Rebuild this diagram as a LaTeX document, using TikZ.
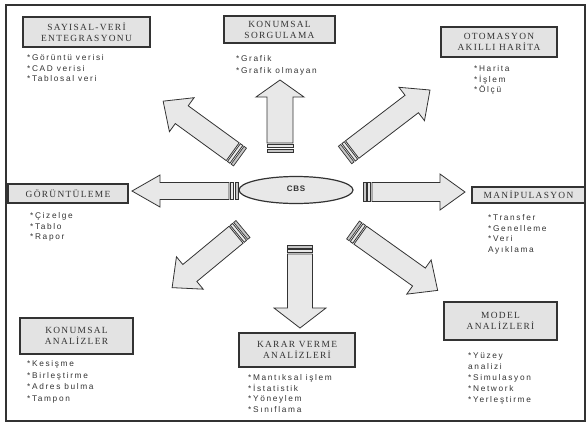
\documentclass[tikz,border=0pt]{standalone}
\usepackage{fontspec}
\setmainfont{Liberation Serif}
\newfontfamily\boxfont{Liberation Serif}[LetterSpace=14]
\newfontfamily\listfont{Liberation Sans}[LetterSpace=20]
\newfontfamily\cbsfont{Liberation Sans}[LetterSpace=10]
\usetikzlibrary{shapes.geometric}
\definecolor{inkc}{gray}{0.2}
\definecolor{arrfill}{gray}{0.91}
\definecolor{boxfill}{gray}{0.89}
\tikzset{
  arrbody/.style={draw=inkc,fill=arrfill,line width=0.8pt,line join=miter},
  arrband/.style={draw=inkc,fill=gray!45,line width=0.7pt},
  titlebox/.style={draw=inkc,fill=boxfill,line width=1.1pt,inner sep=1pt,align=center,
     font=\boxfont\fontsize{9.4}{11}\selectfont,text=inkc},
  itemlist/.style={anchor=north west,inner sep=0pt,align=left,
     font=\listfont\fontsize{8.3}{10.8}\selectfont,text=inkc},
}
% tail x, tail y, angle, length, shaft half width, head half width, head length
\newcommand\bigarr[7]{%
  \begin{scope}[shift={(#1,#2)},rotate=#3]
    \draw[arrbody] (9,-#5) -- ({#4-#7},-#5) -- ({#4-#7},-#6) -- (#4,0)
      -- ({#4-#7},#6) -- ({#4-#7},#5) -- (9,#5) -- cycle;
    \draw[arrband] (0,-#5) rectangle (3,#5);
    \draw[arrbody] (4.5,-#5) rectangle (7.5,#5);
  \end{scope}}
\begin{document}
\begin{tikzpicture}[x=1pt,y=-1pt]
\useasboundingbox (0,0) rectangle (588,426);
\draw[inkc,line width=1.2pt] (6,5) rectangle (585,421);

% central node
\node[ellipse,draw=inkc,fill=arrfill,line width=1.2pt,minimum width=114pt,minimum height=27pt,
  inner sep=0pt,font=\cbsfont\bfseries\fontsize{8}{9}\selectfont,text=inkc] (cbs) at (296,190) {\raisebox{3pt}{CBS}};

% arrows
\bigarr{238}{191}{180}{106}{8.5}{16}{28}
\bigarr{363}{192}{0}{102}{9.5}{18}{25}
\bigarr{280}{152}{90}{72}{13}{24}{17}
\bigarr{300}{245}{-90}{83}{12.5}{26}{20}
\bigarr{240}{157}{144}{95}{11}{21}{23}
\bigarr{345}{155}{37.4}{107}{11}{21}{23}
\bigarr{243}{229}{219.6}{92}{11}{21}{23}
\bigarr{353}{230}{-35.5}{104}{11}{21}{23}

% title boxes
\node[titlebox,minimum width=127pt,minimum height=30pt] (sv) at (86.5,32) {SAYISAL-VERİ\\ENTEGRASYONU};
\node[titlebox,minimum width=111pt,minimum height=27pt] (ks) at (279.5,29.5) {KONUMSAL\\SORGULAMA};
\node[titlebox,minimum width=116pt,minimum height=30pt] (oa) at (499,42) {OTOMASYON\\AKILLI HARİTA};
\node[titlebox,minimum width=120pt,minimum height=19pt] (gr) at (68,193.5) {GÖRÜNTÜLEME};
\node[titlebox,minimum width=113pt,minimum height=16pt] (mp) at (528.5,195) {MANİPULASYON};
\node[titlebox,minimum width=113pt,minimum height=36pt] (ka) at (76.5,336) {KONUMSAL\\ANALİZLER};
\node[titlebox,minimum width=116pt,minimum height=34pt] (kv) at (297,350) {KARAR VERME\\ANALİZLERİ};
\node[titlebox,minimum width=113pt,minimum height=38pt] (ma) at (500.5,321) {MODEL\\ANALİZLERİ};

% item lists
\node[itemlist] (l1) at (27,54) {*Görüntü verisi\\*CAD verisi\\*Tablosal veri};
\node[itemlist,font=\listfont\fontsize{8.3}{12}\selectfont] (l2) at (236,55) {*Grafik\\*Grafik olmayan};
\node[itemlist] (l3) at (474,65) {*Harita\\*İşlem\\*Ölçü};
\node[itemlist] (l4) at (30,212) {*Çizelge\\*Tablo\\*Rapor};
\node[itemlist] (l5) at (488,214) {*Transfer\\*Genelleme\\*Veri\\Ayıklama};
\node[itemlist,font=\listfont\fontsize{8.3}{11.8}\selectfont] (l6) at (27,360) {*Kesişme\\*Birleştirme\\*Adres bulma\\*Tampon};
\node[itemlist] (l7) at (248,374) {*Mantıksal işlem\\*İstatistik\\*Yöneylem\\*Sınıflama};
\node[itemlist] (l8) at (468,353) {*Yüzey\\analizi\\*Simulasyon\\*Network\\*Yerleştirme};
\end{tikzpicture}
\end{document}
